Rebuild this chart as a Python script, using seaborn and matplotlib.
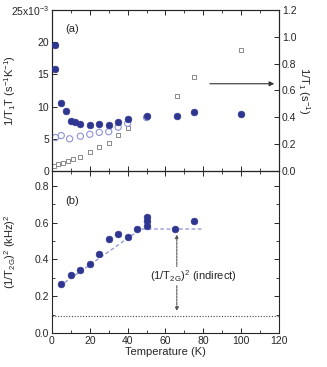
import numpy as np
import pandas as pd
import matplotlib
matplotlib.use("Agg")
import matplotlib.pyplot as plt
import seaborn as sns
from matplotlib.ticker import MultipleLocator

# ---- data ----
# (a) 1/T1T, filled circles (units of 1e-3 s^-1 K^-1)
t_fill = [1.6, 1.6, 4.8, 7.5, 9.9, 12.0, 15.0, 20.0, 25.0, 30.0, 35.0, 40.0, 50.0, 66.0, 75.0, 100.0]
t1t_fill = [19.6, 15.9, 10.6, 9.3, 7.7, 7.6, 7.3, 7.2, 7.3, 7.1, 7.6, 8.0, 8.6, 8.5, 9.1, 8.9]
# (a) 1/T1T, open circles
t_open = [1.8, 4.9, 9.3, 15.0, 20.0, 25.0, 30.0, 35.0, 40.0, 50.0]
t1t_open = [5.2, 5.5, 5.0, 5.4, 5.7, 6.0, 6.1, 6.8, 7.4, 8.3]
# (a) 1/T1, open squares (right axis, s^-1)
t_sq = [1.0, 3.2, 5.8, 8.5, 11.0, 15.0, 20.0, 25.0, 30.0, 35.0, 40.0, 66.0, 75.0, 100.0]
t1_sq = [0.04, 0.05, 0.06, 0.075, 0.09, 0.105, 0.14, 0.18, 0.21, 0.27, 0.32, 0.56, 0.70, 0.90]

# (b) (1/T2G)^2 in (kHz)^2
t_b = [5, 10, 15, 20, 25, 30, 35, 40, 45, 50, 50, 50, 65, 75]
t2g_b = [0.267, 0.316, 0.345, 0.376, 0.43, 0.513, 0.537, 0.519, 0.564, 0.582, 0.607, 0.632, 0.564, 0.607]
# guide lines
fit_t = [4, 47, 80]
fit_v = [0.255, 0.565, 0.565]
indirect_level = 0.09

navy = "#2f3690"
light = "#8e92d4"
grey = "#8a8a8a"

sns.set_style("ticks")
plt.rcParams["font.family"] = ["Liberation Sans Narrow", "Liberation Sans", "DejaVu Sans"]
plt.rcParams["mathtext.fontset"] = "custom"
plt.rcParams["mathtext.rm"] = "Liberation Sans"
plt.rcParams["mathtext.it"] = "Liberation Sans"
plt.rcParams["font.size"] = 7.5
plt.rcParams["xtick.direction"] = "in"
plt.rcParams["ytick.direction"] = "in"
plt.rcParams["axes.linewidth"] = 0.8

fig = plt.figure(figsize=(3.27, 3.67), dpi=100)
ax1 = fig.add_axes([0.159, 0.534, 0.694, 0.439])
ax2 = fig.add_axes([0.159, 0.0926, 0.694, 0.4414])
ax1r = ax1.twinx()

df_fill = pd.DataFrame({"T": t_fill, "v": t1t_fill})
df_open = pd.DataFrame({"T": t_open, "v": t1t_open})
df_sq = pd.DataFrame({"T": t_sq, "v": t1_sq})
df_b = pd.DataFrame({"T": t_b, "v": t2g_b})

sns.scatterplot(data=df_sq, x="T", y="v", ax=ax1r, marker="s", s=9,
                facecolor="none", edgecolor=grey, linewidth=0.7, zorder=2)
sns.scatterplot(data=df_open, x="T", y="v", ax=ax1, marker="o", s=20,
                facecolor="none", edgecolor=light, linewidth=0.8, zorder=2)
sns.scatterplot(data=df_fill, x="T", y="v", ax=ax1, marker="o", s=24,
                color=navy, edgecolor=navy, linewidth=0.4, zorder=3)
ax1.set_zorder(ax1r.get_zorder() + 1)
ax1.patch.set_visible(False)

ax1.set_xlim(0, 120)
ax1.set_ylim(0, 25)
ax1r.set_ylim(0, 1.2)
ax1.xaxis.set_major_locator(MultipleLocator(20))
ax1.xaxis.set_minor_locator(MultipleLocator(10))
ax1.set_yticks([0, 5, 10, 15, 20, 25])
ax1.set_yticklabels(["0", "5", "10", "15", "20", "25x10$^{-3}$"])
ax1.tick_params(axis="x", which="both", top=True, labelbottom=False)
ax1.tick_params(axis="y", right=False)
ax1r.set_yticks([0, 0.2, 0.4, 0.6, 0.8, 1.0, 1.2])
ax1r.set_yticklabels(["0.0", "0.2", "0.4", "0.6", "0.8", "1.0", "1.2"])
ax1.set_xlabel("")
ax1.set_ylabel("1/T$_1$T (s$^{-1}$K$^{-1}$)", fontsize=8)
ax1.yaxis.set_label_coords(-0.15, 0.5)
ax1r.set_ylabel("1/T$_1$ (s$^{-1}$)", rotation=270, labelpad=11, fontsize=8)
ax1.text(7, 21.5, "(a)", fontsize=8)
ax1r.annotate("", xy=(119, 0.65), xytext=(82, 0.65),
              arrowprops=dict(arrowstyle="-|>", color="#333333", lw=0.8,
                              mutation_scale=7))

# (b)
sns.lineplot(x=fit_t, y=fit_v, ax=ax2, color=light, linestyle=(0, (3, 2)),
             linewidth=0.9, zorder=1)
ax2.axhline(indirect_level, color="#444444", linestyle=(0, (1, 1.5)), linewidth=0.8)
sns.scatterplot(data=df_b, x="T", y="v", ax=ax2, marker="o", s=24,
                color=navy, edgecolor=navy, linewidth=0.4, zorder=3)
ax2.annotate("", xy=(66, 0.105), xytext=(66, 0.55),
             arrowprops=dict(arrowstyle="<|-|>", color="#555555", lw=0.8,
                             linestyle=(0, (2, 1)), mutation_scale=5))
ax2.text(75, 0.31, "(1/T$_{2G}$)$^2$ (indirect)", ha="center", va="center",
         fontsize=8, bbox=dict(facecolor="white", edgecolor="none", pad=1))
ax2.text(7, 0.70, "(b)", fontsize=8)

ax2.set_xlim(0, 120)
ax2.set_ylim(0, 0.88)
ax2.xaxis.set_major_locator(MultipleLocator(20))
ax2.xaxis.set_minor_locator(MultipleLocator(10))
ax2.set_yticks([0, 0.2, 0.4, 0.6, 0.8])
ax2.set_yticklabels(["0.0", "0.2", "0.4", "0.6", "0.8"])
ax2.yaxis.set_minor_locator(MultipleLocator(0.1))
ax2.tick_params(axis="both", which="both", top=True, right=True)
ax2.set_xlabel("Temperature (K)", labelpad=1, fontsize=8)
ax2.set_ylabel("(1/T$_{2G}$)$^2$ (kHz)$^2$", fontsize=8)
ax2.yaxis.set_label_coords(-0.15, 0.5)

for a in (ax1, ax1r, ax2):
    a.tick_params(which="major", length=3.5, width=0.7, labelsize=7.5, pad=2)
    a.tick_params(which="minor", length=2, width=0.6)

fig.savefig("out.png", dpi=100)
